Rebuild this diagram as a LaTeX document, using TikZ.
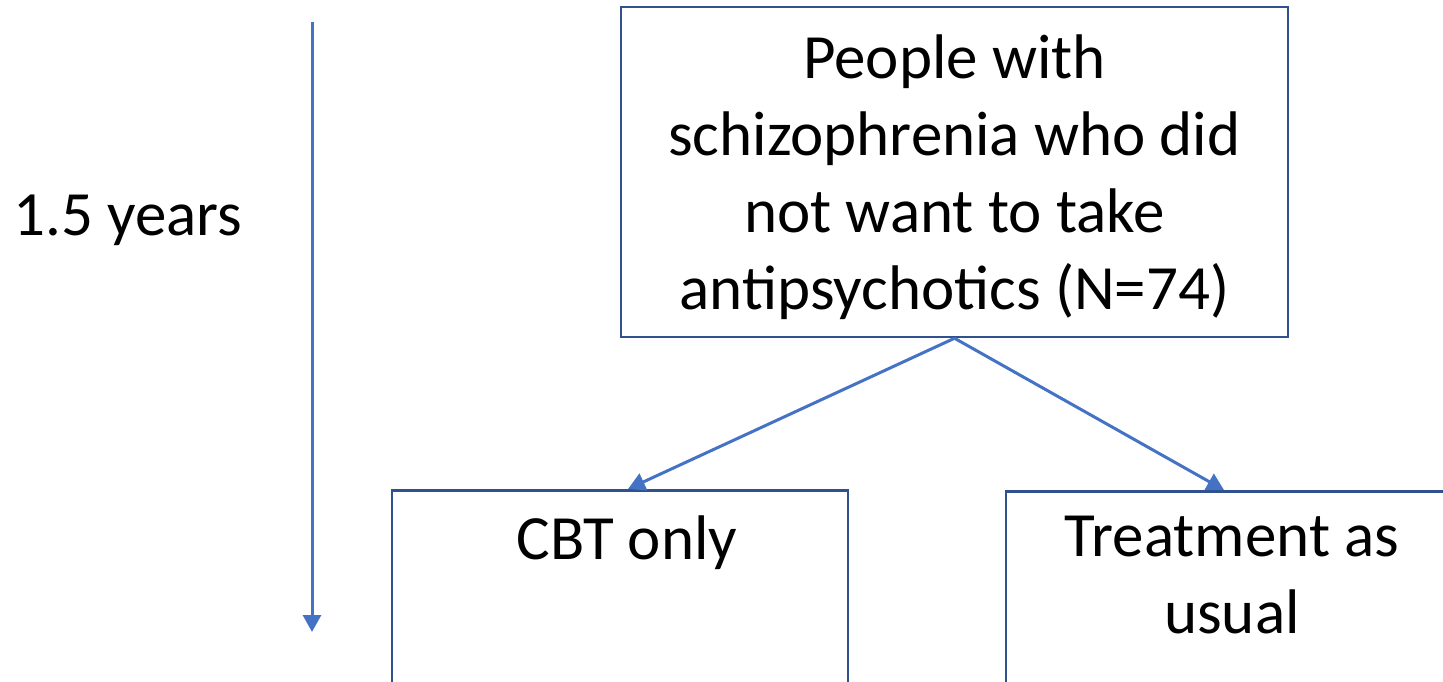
\documentclass[tikz,border=0pt]{standalone}
\usepackage{fontspec}
\setmainfont{Carlito}
\usetikzlibrary{arrows.meta}
\definecolor{boxline}{HTML}{2F528F}
\definecolor{arrowline}{HTML}{4472C4}
\tikzset{
  boxnode/.style={draw=boxline, line width=2.5pt, rectangle, inner sep=0pt},
  bigtext/.style={font=\fontsize{63}{77}\selectfont, align=center, inner sep=0pt, text=black},
  flow/.style={draw=arrowline, line width=3pt, -{Triangle[length=17pt,width=18pt]}}
}
\begin{document}
\begin{tikzpicture}[x=1pt,y=1pt]
  \useasboundingbox (0,0) rectangle (1443,-682);
  \clip (0,0) rectangle (1443,-682);

  % time axis
  \coordinate (tstart) at (312,-22);
  \coordinate (tend) at (312,-632);
  \draw[flow] (tstart) -- (tend);
  \node[bigtext] (duration) at (128,-220) {1.5 years};

  % study population
  \node[boxnode, minimum width=667pt, minimum height=330pt] (pop) at (954.5,-172) {};
  \node[bigtext] (poptext) at (954.5,-177)
    {People with\\schizophrenia who did\\not want to take\\antipsychotics (N=74)};

  % study arms
  \node[boxnode, anchor=north, minimum width=456pt, minimum height=260pt] (cbt) at (620,-489) {};
  \node[bigtext, anchor=north] (cbttext) at (627,-516) {CBT only};
  \node[boxnode, anchor=north, minimum width=456pt, minimum height=260pt] (tau) at (1234,-490) {};
  \node[bigtext, anchor=north] (tautext) at (1232,-516) {Treatment as\\usual};

  \coordinate (cbttop) at (628,-489);
  \coordinate (tautop) at (1224,-490);
  \draw[flow] (pop.south) -- (cbttop);
  \draw[flow] (pop.south) -- (tautop);
\end{tikzpicture}
\end{document}
